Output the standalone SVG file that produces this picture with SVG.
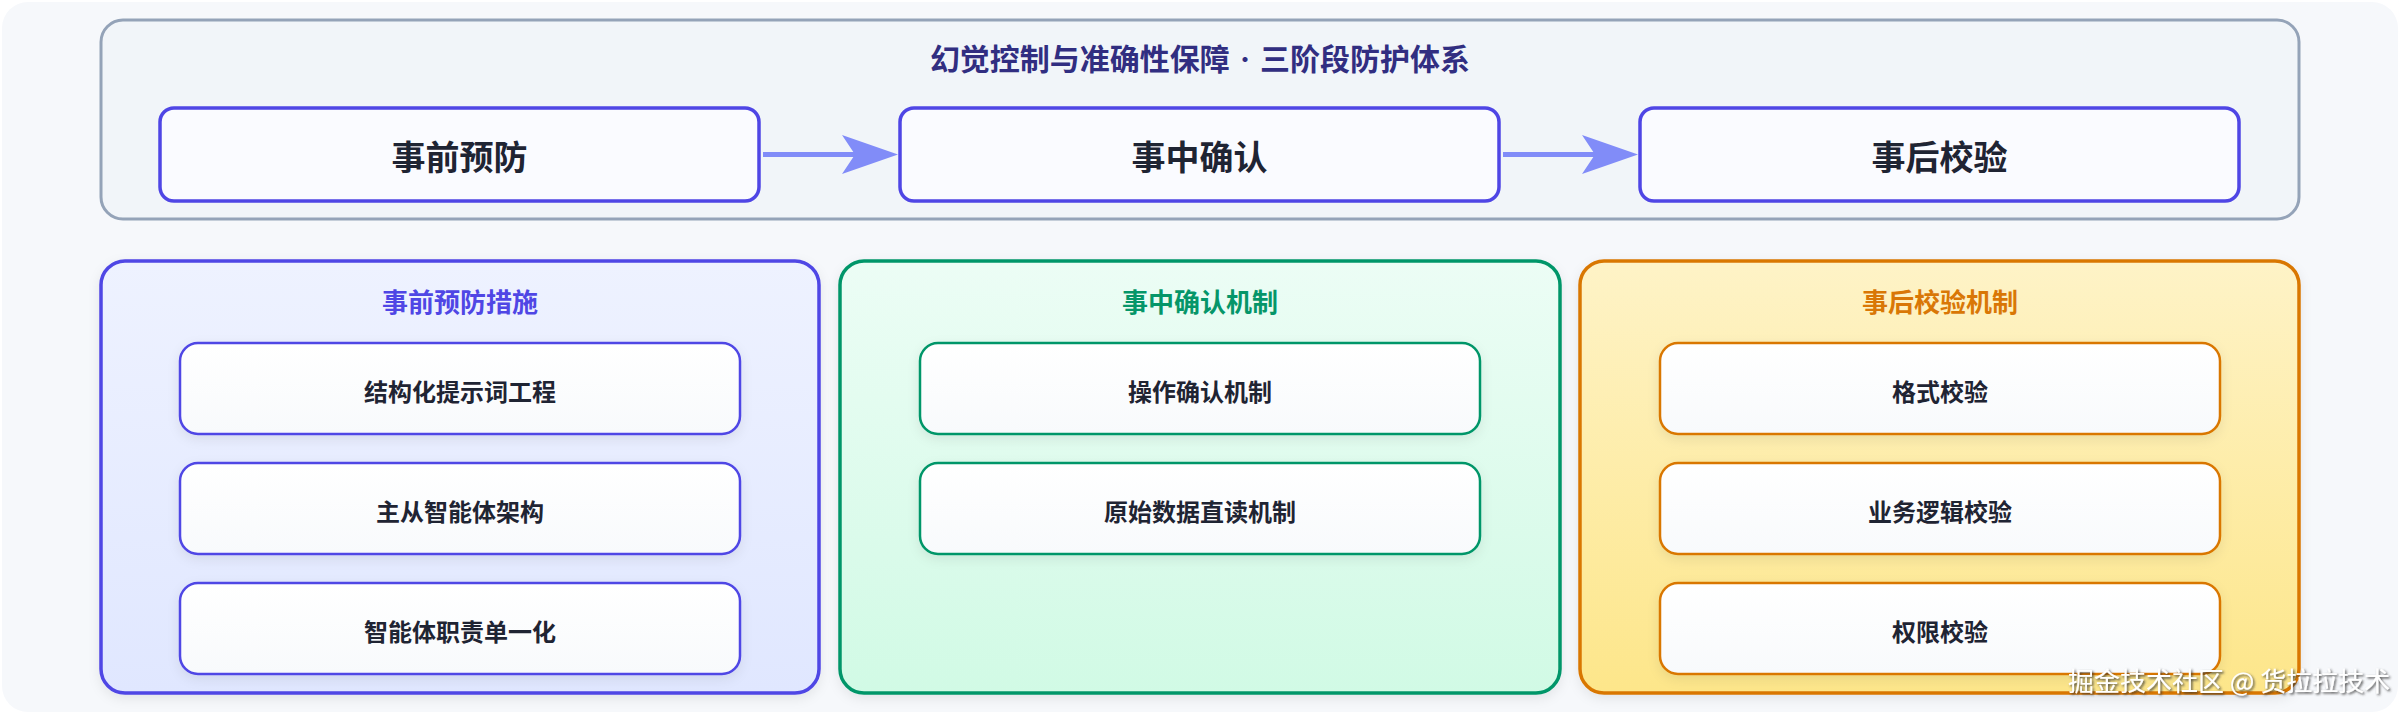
<svg xmlns="http://www.w3.org/2000/svg" width="2400" height="714" viewBox="0 0 2400 714">
<defs>
<style>
text{font-family:"Noto Sans CJK SC","Noto Sans",sans-serif;font-weight:700;text-anchor:middle;dominant-baseline:central}
.title{font-size:30px;fill:#312e81;font-family:"Inter","Noto Sans CJK SC",sans-serif;word-spacing:3px}
.stage{fill:#fafbff;stroke:#4f46e5;stroke-width:3.5}
.stageT{font-size:34px;fill:#1f2433}
.item{fill:url(#gItem);stroke-width:2.5}
.itemT{font-size:24px;fill:#1f2433}
.ptitle{font-size:26px}
.conn{stroke:#818cf8;stroke-width:5;fill:none}
.wm{font-size:26px;font-weight:400;fill:#ffffff;text-anchor:start}
</style>
<linearGradient id="gP1" x1="0" y1="0" x2="0" y2="1"><stop offset="0" stop-color="#eef2ff"/><stop offset="1" stop-color="#e0e7ff"/></linearGradient>
<linearGradient id="gP2" x1="0" y1="0" x2="0" y2="1"><stop offset="0" stop-color="#ecfdf5"/><stop offset="1" stop-color="#d1fae5"/></linearGradient>
<linearGradient id="gP3" x1="0" y1="0" x2="0" y2="1"><stop offset="0" stop-color="#fef3c7"/><stop offset="1" stop-color="#fde68a"/></linearGradient>
<linearGradient id="gItem" x1="0" y1="0" x2="0" y2="1"><stop offset="0" stop-color="#ffffff"/><stop offset="1" stop-color="#f8fafc"/></linearGradient>
<filter id="sh" x="-10%" y="-20%" width="120%" height="150%"><feDropShadow dx="0" dy="4" stdDeviation="6" flood-color="#0f172a" flood-opacity="0.08"/></filter>
<filter id="wmsh" x="-5%" y="-30%" width="110%" height="160%"><feDropShadow dx="1.5" dy="1.5" stdDeviation="0.8" flood-color="#333333" flood-opacity="0.85"/></filter>
<marker id="ah" markerUnits="userSpaceOnUse" markerWidth="56" markerHeight="39" refX="18" refY="19.5" orient="auto"><path d="M0,0 L56,19.5 L0,39 L13,19.5 Z" fill="#818cf8"/></marker>
</defs>
<rect x="0" y="0" width="2400" height="714" fill="#ffffff"/>
<rect x="2" y="2" width="2396" height="710" rx="26" fill="#f6f8fb"/>

<g id="overview">
<rect x="101" y="20" width="2198" height="199" rx="22" fill="#f1f5f9" stroke="#94a3b8" stroke-width="3"/>
<text class="title" x="1200" y="59">幻觉控制与准确性保障 · 三阶段防护体系</text>
</g>

<g id="stage-pre">
<rect class="stage" x="160" y="108" width="599" height="93" rx="14"/>
<text class="stageT" x="459.5" y="155">事前预防</text>
</g>
<g id="stage-mid">
<rect class="stage" x="900" y="108" width="599" height="93" rx="14"/>
<text class="stageT" x="1199.5" y="155">事中确认</text>
</g>
<g id="stage-post">
<rect class="stage" x="1640" y="108" width="599" height="93" rx="14"/>
<text class="stageT" x="1939.5" y="155">事后校验</text>
</g>

<g id="connectors">
<line class="conn" x1="763" y1="154.5" x2="860" y2="154.5" marker-end="url(#ah)"/>
<line class="conn" x1="1503" y1="154.5" x2="1600" y2="154.5" marker-end="url(#ah)"/>
</g>

<g id="panel-pre">
<rect x="101" y="261" width="718" height="432" rx="24" fill="url(#gP1)" stroke="#4f46e5" stroke-width="3.5" filter="url(#sh)"/>
<text class="ptitle" x="460" y="300" fill="#4f46e5">事前预防措施</text>
</g>
<g id="item-pre-1">
<rect class="item" x="180" y="343" width="560" height="91" rx="18" stroke="#4f46e5" filter="url(#sh)"/>
<text class="itemT" x="460" y="390">结构化提示词工程</text>
</g>
<g id="item-pre-2">
<rect class="item" x="180" y="463" width="560" height="91" rx="18" stroke="#4f46e5" filter="url(#sh)"/>
<text class="itemT" x="460" y="510">主从智能体架构</text>
</g>
<g id="item-pre-3">
<rect class="item" x="180" y="583" width="560" height="91" rx="18" stroke="#4f46e5" filter="url(#sh)"/>
<text class="itemT" x="460" y="630">智能体职责单一化</text>
</g>

<g id="panel-mid">
<rect x="840" y="261" width="720" height="432" rx="24" fill="url(#gP2)" stroke="#059669" stroke-width="3.5" filter="url(#sh)"/>
<text class="ptitle" x="1200" y="300" fill="#059669">事中确认机制</text>
</g>
<g id="item-mid-1">
<rect class="item" x="920" y="343" width="560" height="91" rx="18" stroke="#059669" filter="url(#sh)"/>
<text class="itemT" x="1200" y="390">操作确认机制</text>
</g>
<g id="item-mid-2">
<rect class="item" x="920" y="463" width="560" height="91" rx="18" stroke="#059669" filter="url(#sh)"/>
<text class="itemT" x="1200" y="510">原始数据直读机制</text>
</g>

<g id="panel-post">
<rect x="1580" y="261" width="719" height="432" rx="24" fill="url(#gP3)" stroke="#d97706" stroke-width="3.5" filter="url(#sh)"/>
<text class="ptitle" x="1940" y="300" fill="#d97706">事后校验机制</text>
</g>
<g id="item-post-1">
<rect class="item" x="1660" y="343" width="560" height="91" rx="18" stroke="#d97706" filter="url(#sh)"/>
<text class="itemT" x="1940" y="390">格式校验</text>
</g>
<g id="item-post-2">
<rect class="item" x="1660" y="463" width="560" height="91" rx="18" stroke="#d97706" filter="url(#sh)"/>
<text class="itemT" x="1940" y="510">业务逻辑校验</text>
</g>
<g id="item-post-3">
<rect class="item" x="1660" y="583" width="560" height="91" rx="18" stroke="#d97706" filter="url(#sh)"/>
<text class="itemT" x="1940" y="630">权限校验</text>
</g>

<text class="wm" x="2068" y="679" filter="url(#wmsh)">掘金技术社区 @ 货拉拉技术</text>
</svg>
